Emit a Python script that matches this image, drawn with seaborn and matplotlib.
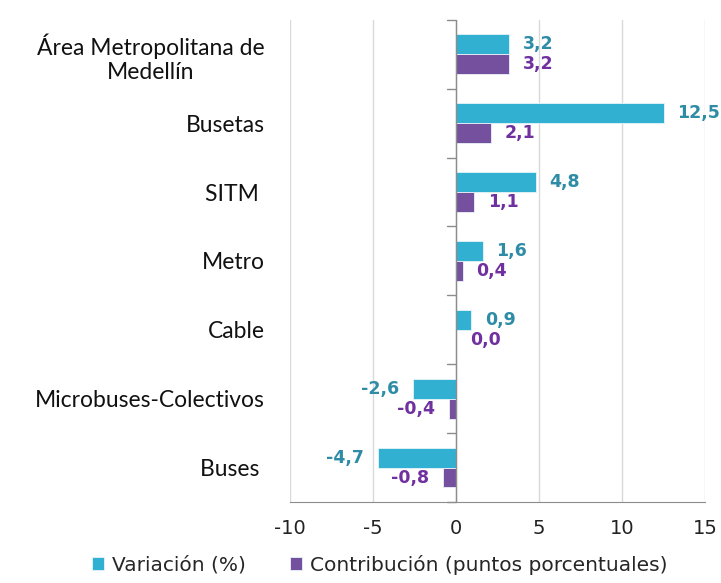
import numpy as np
import pandas as pd
import matplotlib
matplotlib.use("Agg")
import matplotlib.pyplot as plt
import seaborn as sns

# ---- data ----------------------------------------------------------------- #
categories = ["Área Metropolitana de\nMedellín", "Busetas", "SITM ", "Metro",
              "Cable", "Microbuses-Colectivos", "Buses "]
variacion = [3.2, 12.5, 4.8, 1.6, 0.9, -2.6, -4.7]
contribucion = [3.2, 2.1, 1.1, 0.4, 0.0, -0.4, -0.8]
series_names = ["Variación (%)", "Contribución (puntos porcentuales)"]
x_ticks = [-10, -5, 0, 5, 10, 15]

bar_colors = ["#31B0D2", "#74509F"]
text_colors = ["#2F8CA6", "#7030A0"]

df = pd.DataFrame({"Categoria": categories * 2,
                   "Valor": variacion + contribucion,
                   "Serie": [series_names[0]] * len(categories)
                            + [series_names[1]] * len(categories)})

sns.set_style("white")
plt.rcParams["font.family"] = ["DejaVu Sans"]

fig = plt.figure(figsize=(7.21, 5.83), dpi=100)
ax = fig.add_axes([0.402, 0.139, 0.576, 0.827])

sns.barplot(data=df, y="Categoria", x="Valor", hue="Serie", orient="h",
            palette=bar_colors, saturation=1, width=0.58, dodge=True, ax=ax,
            edgecolor="#e8f4f8", linewidth=0.6, legend=True)

# data labels with comma decimals
for cont, vals, tc in zip(ax.containers, [variacion, contribucion], text_colors):
    labels = [f"{v:.1f}".replace(".", ",") for v in vals]
    ax.bar_label(cont, labels=labels, padding=10, color=tc,
                 fontsize=12.5, fontweight="bold")

ax.set_xlim(-10, 15)
ax.set_ylim(len(categories) - 0.5, -0.5)
ax.set_xticks(x_ticks)
ax.set_xticklabels([str(t) for t in x_ticks], fontsize=14, color="#222222")
ax.set_xlabel(""); ax.set_ylabel("")

# category labels (left), centred multi-line
ax.tick_params(axis="y", length=0, pad=18)
for lab in ax.get_yticklabels():
    lab.set_fontfamily("Lato")
    lab.set_fontsize(16.5)
    lab.set_color("#111111")
    lab.set_multialignment("center")

ax.tick_params(axis="x", length=5, color="#8c8c8c", direction="out", pad=7)
ax.grid(axis="x", color="#d9d9d9", lw=1)
ax.set_axisbelow(True)
for s in ["top", "right", "left"]:
    ax.spines[s].set_visible(False)
ax.spines["bottom"].set_color("#8c8c8c")

# vertical category axis at zero with separator ticks
ax.axvline(0, color="#8c8c8c", lw=1, zorder=1)
for i in range(len(categories) + 1):
    ax.plot([-0.55, 0], [i - 0.5, i - 0.5], color="#8c8c8c", lw=1,
            clip_on=False, zorder=1)

ax.legend(loc="upper center", bbox_to_anchor=(0.217, -0.105), ncol=2,
          frameon=False, fontsize=14.5, handlelength=0.6, handleheight=0.6,
          handletextpad=0.4, columnspacing=2.2, borderpad=0.1,
          borderaxespad=0)

fig.savefig("out.png", dpi=100)
